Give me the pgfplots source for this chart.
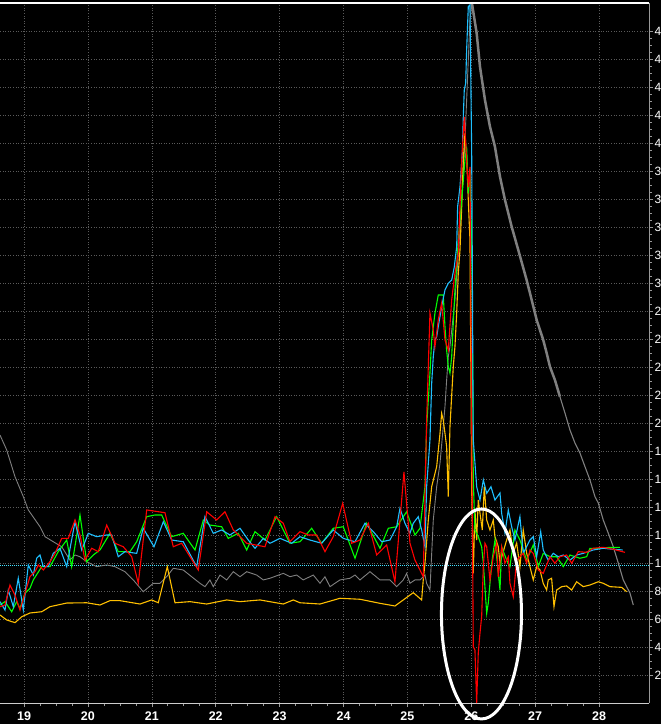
\documentclass[border=0pt]{standalone}
\usepackage{pgfplots}
\pgfplotsset{compat=1.18}
\usepackage{fontspec}
\setmainfont{Liberation Sans}

\definecolor{cred}{HTML}{FF0000}
\definecolor{cgreen}{HTML}{00FF00}
\definecolor{ccyan}{HTML}{1EC0FF}
\definecolor{cyel}{HTML}{FFC000}
\definecolor{cgray}{HTML}{808080}
\definecolor{gridc}{HTML}{5A5A5A}
\definecolor{dotc}{HTML}{40E0FF}

\begin{document}
\begin{tikzpicture}
  %%% black page
  \fill[black] (0,-21pt) rectangle (661pt,703pt);
  \begin{scope}
  \clip (0,-21pt) rectangle (661pt,703pt);
  \begin{axis}[
    at={(0,0)}, anchor=south west,
    scale only axis,
    width=649pt, height=700pt,
    xmin=18.624, xmax=28.781,
    ymin=0, ymax=50,
    axis x line*=bottom,
    axis y line*=right,
    x axis line style={draw=white!80!black, line width=0.8pt, -},
    y axis line style={draw=white!60!black, line width=0.8pt, -},
    xtick={19,...,28},
    ytick={2,4,...,48},
    %%% the labels are cut at the window edge: only the first digit shows
    yticklabels={2,4,6,8,1,1,1,1,1,2,2,2,2,2,3,3,3,3,3,4,4,4,4,4},
    minor x tick num=3,
    minor y tick num=3,
    tick align=outside,
    major tick length=4pt,
    minor tick length=2.5pt,
    tick style={white!60!black, line width=0.6pt},
    grid=major,
    major grid style={gridc, line width=0.6pt, dash pattern=on 1pt off 1.6pt},
    /pgf/number format/assume math mode=true,
    xticklabel style={font=\fontsize{12.5}{13}\selectfont\bfseries, text=white, yshift=-1pt},
    yticklabel style={font=\fontsize{12}{12}\selectfont, text=white, anchor=west, xshift=-2pt},
    axis background/.style={fill=black},
  ]

    %%% reference level
    \addplot [dotc, line width=0.8pt, dash pattern=on 1pt off 1pt]
      coordinates {(18.624,9.85) (28.781,9.85)};

    %%% gray: slow series, rise
    \addplot [cgray, line width=0.9pt] coordinates {
      (18.624,19.14) (18.729,18.07) (18.859,16.16) (18.989,14.74) (19.067,13.79)
      (19.250,12.59) (19.328,11.88) (19.458,11.52) (19.590,11.16) (19.719,10.21)
      (19.798,10.57) (19.876,10.45) (19.981,10.09) (20.137,9.74) (20.294,9.86)
      (20.424,9.74) (20.580,9.38) (20.710,8.79) (20.866,7.95) (21.023,8.55)
      (21.128,8.55) (21.232,9.02) (21.336,9.62) (21.492,9.50) (21.623,9.02)
      (21.754,8.55) (21.832,8.31) (21.910,8.79) (21.962,8.31) (22.067,9.14)
      (22.172,8.79) (22.275,9.38) (22.380,9.02) (22.485,9.38) (22.641,9.14)
      (22.745,8.79) (22.849,8.91) (23.057,9.26) (23.162,9.02) (23.267,9.14)
      (23.370,8.79) (23.527,9.14) (23.632,8.55) (23.710,9.02) (23.788,8.31)
      (23.945,8.79) (24.101,8.91) (24.180,9.14) (24.258,8.79) (24.414,9.38)
      (24.571,8.79) (24.727,8.79) (24.832,8.31) (24.935,8.79) (24.988,9.26)
      (25.040,8.55) (25.118,8.79) (25.197,8.79) (25.275,9.14) (25.301,8.55)
      (25.353,8.07) (25.380,10.69) (25.405,13.07) (25.458,15.45) (25.510,17.12)
      (25.561,19.74) (25.588,21.17) (25.614,23.07) (25.640,24.74) (25.666,25.45)
      (25.744,28.79) (25.823,33.79) (25.901,40.21) (25.979,48.79) (26.010,49.98)};
    %%% gray: decay, heavy part
    \addplot [cgray, line width=2.5pt] coordinates {
      (26.010,49.98) (26.084,47.84) (26.136,45.45) (26.214,43.07) (26.292,41.17)
      (26.370,39.74) (26.449,37.59) (26.527,35.93) (26.632,34.02) (26.735,32.36)
      (26.866,30.21) (26.945,28.79) (27.023,27.36) (27.075,26.64) (27.126,25.93)
      (27.179,25.00) (27.231,24.02) (27.309,23.07) (27.387,21.88)};
    %%% gray: decay, tail
    \addplot [cgray, line width=1.1pt] coordinates {
      (27.387,21.88) (27.466,20.71) (27.544,19.50) (27.622,18.57) (27.700,17.86)
      (27.779,16.88) (27.857,15.93) (27.935,14.74) (27.987,14.29) (28.065,13.07)
      (28.143,12.14) (28.222,11.16) (28.300,10.00) (28.378,8.79) (28.431,8.31)
      (28.483,7.86) (28.535,7.00)};

    %%% yellow
    \addplot [cyel, line width=1.1pt] coordinates {
      (18.624,6.29) (18.729,5.93) (18.859,5.74) (18.964,6.16) (19.093,6.43)
      (19.277,6.52) (19.406,6.88) (19.668,7.14) (19.981,7.16) (20.189,7.00)
      (20.345,7.31) (20.502,7.31) (20.815,7.07) (20.998,7.36) (21.101,7.16)
      (21.242,9.74) (21.363,7.16) (21.597,7.24) (21.859,7.07) (22.172,7.36)
      (22.380,7.24) (22.693,7.36) (23.057,7.07) (23.214,7.36) (23.319,7.16)
      (23.632,7.07) (23.945,7.48) (24.258,7.41) (24.571,7.12) (24.805,6.93)
      (24.935,7.36) (25.092,7.88) (25.223,7.36) (25.248,8.79) (25.275,9.98)
      (25.327,13.07) (25.380,15.45) (25.458,16.88) (25.510,19.26) (25.536,20.69)
      (25.561,20.21) (25.588,19.26) (25.614,18.31) (25.640,14.74) (25.666,19.74)
      (25.718,24.02) (25.744,25.45) (25.771,27.84) (25.796,30.69) (25.823,32.36)
      (25.850,35.45) (25.875,38.79) (25.901,40.69) (25.927,39.02) (25.953,35.93)
      (25.979,33.07) (26.006,15.21) (26.031,9.26) (26.057,13.79) (26.084,11.64)
      (26.109,14.50) (26.136,13.55) (26.172,12.36) (26.203,15.45) (26.241,13.07)
      (26.292,12.36) (26.344,13.07) (26.370,11.88) (26.422,11.16) (26.449,10.00)
      (26.553,11.64) (26.605,12.36) (26.657,10.71) (26.710,11.43) (26.761,9.74)
      (26.813,12.36) (26.866,10.71) (26.918,9.74) (26.970,8.79) (27.023,9.74)
      (27.075,9.50) (27.126,8.55) (27.179,8.07) (27.204,8.79) (27.257,8.91)
      (27.294,6.88) (27.336,8.07) (27.414,8.31) (27.492,8.36) (27.571,8.07)
      (27.649,8.66) (27.752,8.31) (27.857,8.43) (27.987,8.66) (28.065,8.55)
      (28.170,8.31) (28.353,8.26) (28.431,7.95)};

    %%% green
    \addplot [cgreen, line width=1.1pt] coordinates {
      (18.624,7.00) (18.702,7.24) (18.807,6.52) (18.885,7.24) (18.937,6.76)
      (19.015,7.84) (19.093,8.19) (19.145,8.79) (19.277,9.74) (19.406,9.74)
      (19.536,10.81) (19.668,11.64) (19.746,9.74) (19.876,13.43) (19.981,10.09)
      (20.084,10.57) (20.189,10.93) (20.345,12.12) (20.475,10.81) (20.658,10.81)
      (20.763,11.52) (20.920,13.31) (21.050,13.43) (21.154,13.43) (21.311,11.88)
      (21.492,12.12) (21.676,10.93) (21.806,13.07) (21.910,12.71) (22.093,12.59)
      (22.197,11.76) (22.353,12.12) (22.485,10.93) (22.615,12.24) (22.771,11.64)
      (22.954,13.31) (23.162,11.41) (23.319,11.52) (23.502,12.48) (23.658,11.41)
      (23.840,12.48) (23.996,12.59) (24.180,10.34) (24.362,12.84) (24.571,11.05)
      (24.701,12.48) (24.832,12.59) (24.988,13.66) (25.118,12.00) (25.197,12.48)
      (25.275,15.45) (25.301,19.74) (25.353,23.55) (25.380,25.93) (25.431,27.84)
      (25.483,29.14) (25.561,29.14) (25.588,26.88) (25.614,25.21) (25.640,24.02)
      (25.666,23.55) (25.693,24.74) (25.718,27.12) (25.744,29.50) (25.771,31.16)
      (25.796,33.07) (25.850,35.93) (25.901,38.79) (25.927,39.74) (25.953,36.41)
      (25.979,38.07) (26.006,33.07) (26.031,15.93) (26.057,12.36) (26.109,11.88)
      (26.162,11.16) (26.188,9.98) (26.241,6.41) (26.265,7.12) (26.319,9.98)
      (26.370,11.64) (26.449,8.07) (26.475,11.16) (26.553,10.21) (26.605,9.74)
      (26.683,12.36) (26.761,11.64) (26.866,10.21) (26.970,11.29) (27.048,9.74)
      (27.126,10.69) (27.231,10.45) (27.336,10.45) (27.439,9.74) (27.544,10.57)
      (27.700,10.34) (27.805,10.45) (27.857,11.05) (28.013,11.05) (28.170,11.12)
      (28.326,11.12)};

    %%% cyan
    \addplot [ccyan, line width=1.1pt] coordinates {
      (18.624,7.24) (18.702,6.64) (18.754,8.07) (18.832,6.88) (18.910,8.91)
      (18.989,6.64) (19.067,9.86) (19.145,9.14) (19.198,10.34) (19.250,10.57)
      (19.302,9.74) (19.380,9.74) (19.458,10.69) (19.563,11.05) (19.668,9.74)
      (19.798,12.95) (19.903,10.93) (20.006,12.12) (20.137,11.88) (20.294,12.00)
      (20.372,12.00) (20.475,10.45) (20.580,10.81) (20.763,10.69) (20.866,12.48)
      (21.034,11.16) (21.180,12.95) (21.311,11.64) (21.492,11.52) (21.702,9.74)
      (21.832,13.31) (21.962,12.12) (22.093,12.36) (22.223,12.00) (22.380,12.48)
      (22.510,11.64) (22.615,11.05) (22.745,11.76) (22.849,11.41) (23.006,11.76)
      (23.189,11.41) (23.319,11.88) (23.475,11.64) (23.658,11.41) (23.840,12.36)
      (23.996,11.76) (24.180,11.52) (24.336,12.84) (24.466,12.24) (24.597,11.52)
      (24.727,11.64) (24.832,12.59) (24.884,13.91) (24.962,12.84) (25.040,12.12)
      (25.092,12.84) (25.170,13.31) (25.223,12.36) (25.275,11.16) (25.301,15.45)
      (25.353,18.79) (25.380,22.84) (25.405,24.74) (25.431,25.93) (25.458,26.16)
      (25.483,26.88) (25.536,28.31) (25.588,29.50) (25.640,29.98) (25.693,30.21)
      (25.734,31.16) (25.771,32.59) (25.786,35.45) (25.823,36.88) (25.859,39.26)
      (25.875,41.88) (25.890,43.79) (25.912,44.26) (25.927,46.64) (25.953,49.74)
      (25.979,49.86) (26.006,39.26) (26.031,18.79) (26.084,15.45) (26.136,14.50)
      (26.188,15.93) (26.241,14.98) (26.308,15.45) (26.370,14.50) (26.449,15.00)
      (26.475,13.55) (26.527,12.14) (26.579,13.79) (26.632,12.59) (26.683,11.64)
      (26.761,13.31) (26.813,10.69) (26.918,11.64) (26.970,11.88) (27.023,10.45)
      (27.086,12.24) (27.126,10.93) (27.204,10.21) (27.283,10.69) (27.361,10.45)
      (27.439,10.57) (27.544,10.21) (27.649,10.57) (27.752,10.69) (27.908,10.93)
      (28.065,11.05) (28.222,10.98) (28.369,10.93)};

    %%% red
    \addplot [cred, line width=1.1pt] coordinates {
      (18.624,6.88) (18.702,7.00) (18.780,8.43) (18.859,7.71) (18.937,6.64)
      (19.015,7.84) (19.093,9.02) (19.172,9.38) (19.223,9.86) (19.302,9.50)
      (19.406,10.09) (19.485,10.69) (19.590,11.76) (19.693,11.76) (19.798,13.07)
      (19.876,12.00) (19.954,10.21) (20.059,11.05) (20.162,10.81) (20.294,12.71)
      (20.424,11.41) (20.554,11.16) (20.685,10.45) (20.788,8.55) (20.920,13.79)
      (21.206,13.59) (21.336,11.16) (21.467,11.41) (21.727,9.50) (21.859,13.66)
      (22.015,13.07) (22.145,13.66) (22.275,12.36) (22.485,11.41) (22.771,11.16)
      (22.927,13.31) (23.057,12.84) (23.162,11.52) (23.319,12.24) (23.449,12.00)
      (23.580,12.00) (23.710,10.81) (23.840,11.88) (23.987,14.26) (24.128,11.41)
      (24.258,11.64) (24.388,12.84) (24.519,10.57) (24.675,11.29) (24.805,8.66)
      (24.946,16.50) (25.040,11.41) (25.118,10.21) (25.197,9.50) (25.248,9.02)
      (25.301,20.21) (25.353,27.86) (25.405,26.64) (25.431,25.43) (25.483,27.36)
      (25.536,28.57) (25.588,25.93) (25.640,25.21) (25.693,28.79) (25.744,30.71)
      (25.796,32.14) (25.850,38.79) (25.890,41.86) (25.927,38.79) (25.953,36.86)
      (25.979,38.29) (26.006,20.21) (26.031,4.02) (26.057,3.79) (26.084,0.00)
      (26.109,3.57) (26.136,5.00) (26.162,6.16) (26.188,9.74) (26.214,11.41)
      (26.241,11.16) (26.292,8.79) (26.344,10.45) (26.397,11.41) (26.422,9.02)
      (26.475,11.16) (26.527,9.98) (26.579,10.45) (26.605,8.55) (26.657,7.59)
      (26.710,10.21) (26.813,10.69) (26.866,9.98) (26.918,10.93) (26.970,10.69)
      (27.048,9.50) (27.126,9.26) (27.231,10.45) (27.309,9.98) (27.387,10.45)
      (27.492,10.57) (27.571,9.98) (27.674,10.81) (27.805,10.76) (27.908,11.05)
      (28.065,11.12) (28.222,10.98) (28.405,10.76)};

    %%% frame top
    \draw [white, line width=1.2pt] (rel axis cs:0,1) -- (rel axis cs:1,1);
    \coordinate (E) at (axis cs:26.159,6.36);
  \end{axis}
  \end{scope}
  %%% highlight ring
  \draw [white, line width=3pt] (E) ellipse [x radius=40pt, y radius=105pt];
  \pgfresetboundingbox
  \path [use as bounding box] (0,-21pt) rectangle (661pt,703pt);
\end{tikzpicture}
\end{document}
